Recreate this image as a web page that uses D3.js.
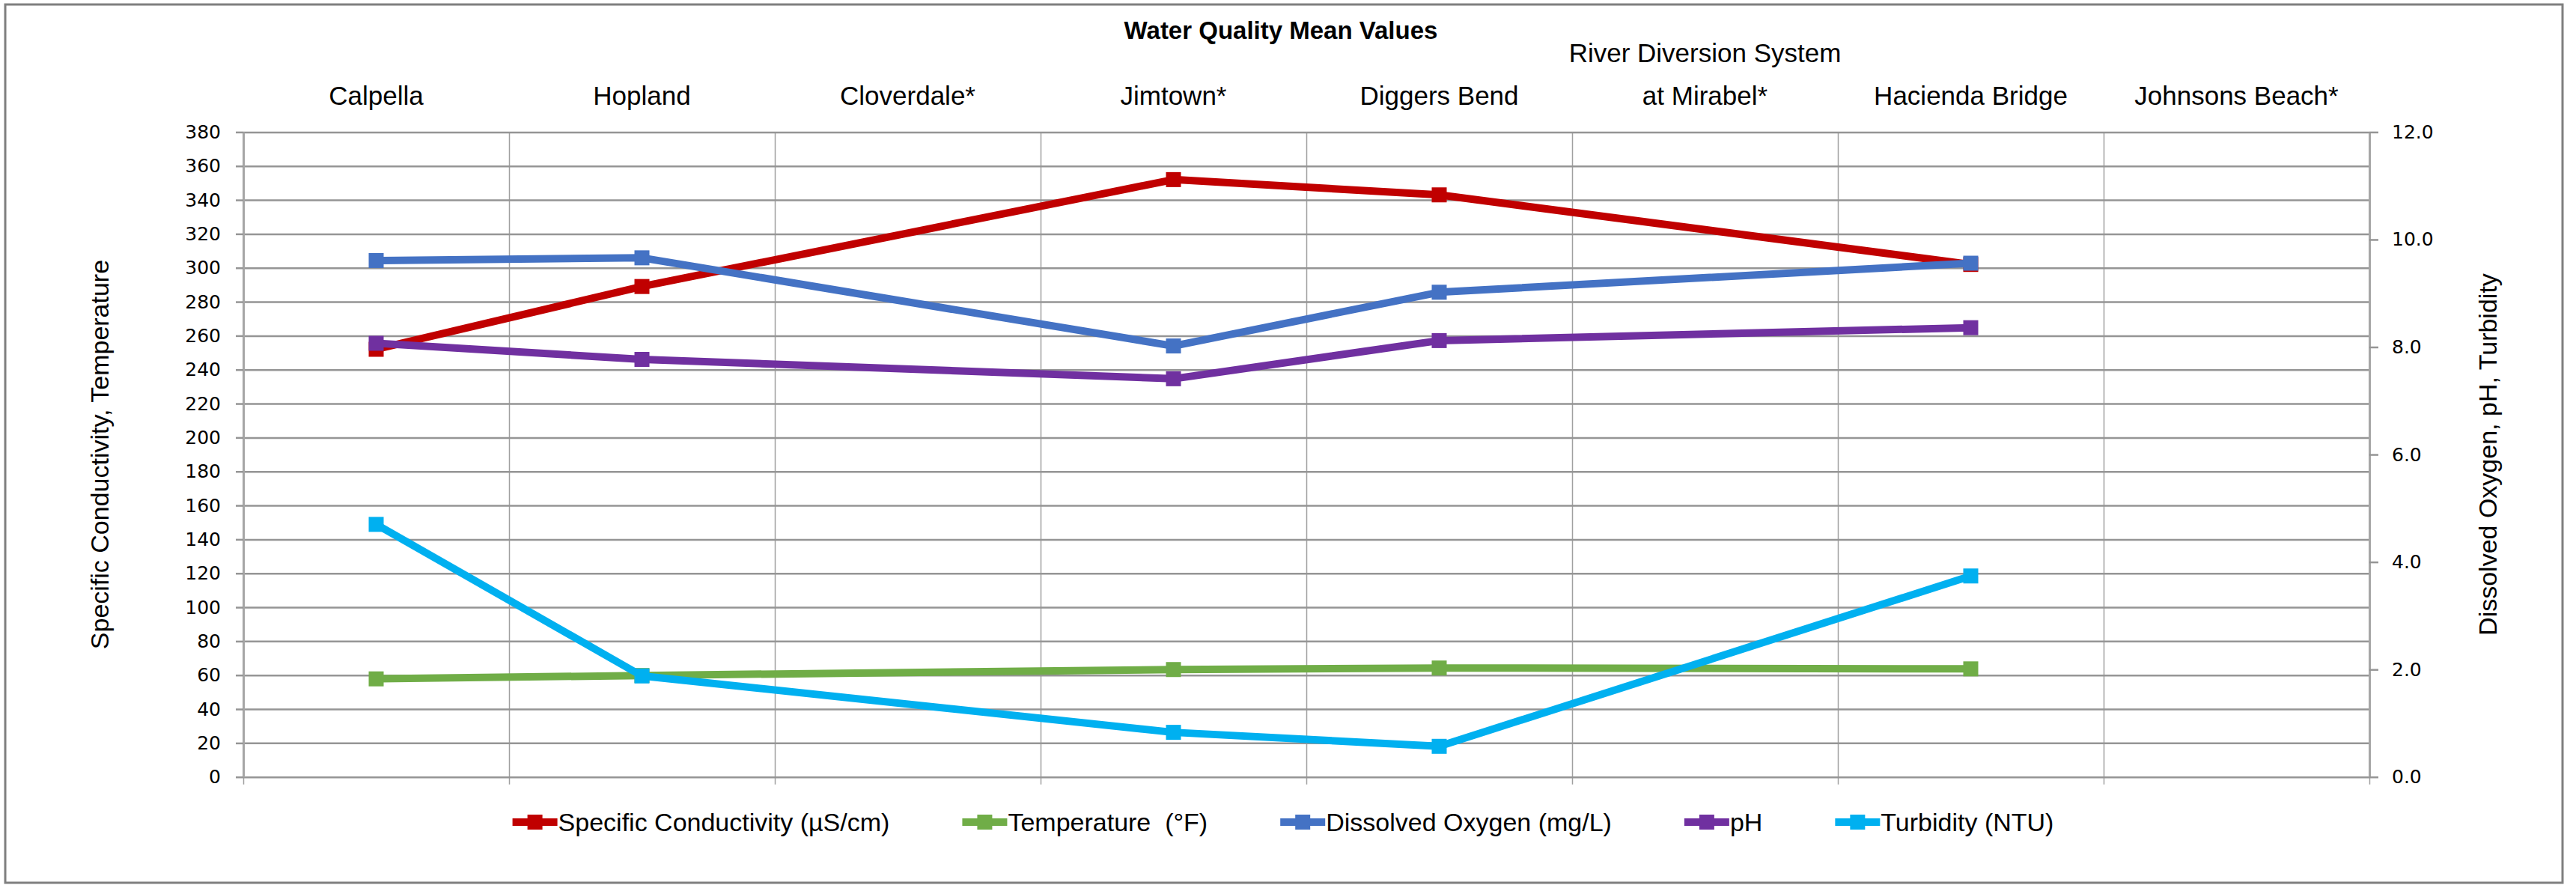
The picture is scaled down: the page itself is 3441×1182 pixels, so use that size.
<!DOCTYPE html>
<html>
<head>
<meta charset="utf-8">
<script src="https://cdn.jsdelivr.net/npm/d3@7"></script>
<style>
  html, body { margin: 0; padding: 0; background: #fff; }
  svg { display: block; }
  text { font-family: "Liberation Sans", Arial, sans-serif; fill: #000; }
</style>
</head>
<body>
<svg id="chart" width="3441" height="1182"></svg>
<script>
// Sites along the river (top category labels)
const categories = ["Calpella", "Hopland", "Cloverdale*", "Jimtown*", "Diggers Bend",
    "River Diversion System\nat Mirabel*", "Hacienda Bridge", "Johnsons Beach*"];

// Mean values per site (null = no data)
const conductivity = [252, 289, null, 352, 343, null, 302, null];
const temperature = [57.8, 59.8, null, 63.3, 64.2, null, 63.7, null];
const dissolvedOxygen = [9.61, 9.66, null, 8.02, 9.02, null, 9.56, null];
const ph = [8.07, 7.77, null, 7.41, 8.12, null, 8.36, null];
const turbidity = [4.70, 1.88, null, 0.83, 0.57, null, 3.74, null];

const leftTicks = d3.range(0, 381, 20);
const rightTicks = [0, 2, 4, 6, 8, 10, 12];

const seriesNames = ["Specific Conductivity (\u00B5S/cm)", "Temperature  (\u00B0F)",
    "Dissolved Oxygen (mg/L)", "pH", "Turbidity (NTU)"];
const seriesColors = ["#C00000", "#70AD47", "#4472C4", "#7030A0", "#00B0F0"];
const seriesAxis = ["left", "left", "right", "right", "right"];
const seriesValues = [conductivity, temperature, dissolvedOxygen, ph, turbidity];

const svg = d3.select("#chart");
const plotLeft = 325, plotRight = 3165, plotTop = 176.4, plotBottom = 1037.7;

// outer border
svg.append("rect")
    .attr("x", 7).attr("y", 6)
    .attr("width", 3416).attr("height", 1173)
    .attr("fill", "none")
    .attr("stroke", "#7f7f7f")
    .attr("stroke-width", 3);

const x = d3.scaleBand()
    .domain(d3.range(categories.length))
    .range([plotLeft, plotRight])
    .padding(0);
const xEdge = d3.scaleLinear().domain([0, categories.length]).range([plotLeft, plotRight]);
const yLeft = d3.scaleLinear().domain([0, 380]).range([plotBottom, plotTop]);
const yRight = d3.scaleLinear().domain([0, 12]).range([plotBottom, plotTop]);

// vertical gridlines at category boundaries
svg.append("g")
    .attr("transform", `translate(0, ${plotBottom})`)
    .call(d3.axisBottom(xEdge).ticks(categories.length).tickSize(-(plotBottom - plotTop)).tickFormat(""))
    .call(g => g.select(".domain").remove())
    .call(g => g.selectAll("line").attr("stroke", "#a0a0a0").attr("stroke-width", 1.5));

// bottom tick marks
svg.append("g")
    .attr("transform", `translate(0, ${plotBottom})`)
    .call(d3.axisBottom(xEdge).ticks(categories.length).tickSize(10).tickFormat(""))
    .call(g => g.select(".domain").remove())
    .call(g => g.selectAll("line").attr("stroke", "#a0a0a0").attr("stroke-width", 1.5));

// horizontal gridlines
svg.append("g")
    .attr("transform", `translate(${plotLeft}, 0)`)
    .call(d3.axisLeft(yLeft).tickValues(leftTicks).tickSize(-(plotRight - plotLeft)).tickFormat(""))
    .call(g => g.select(".domain").remove())
    .call(g => g.selectAll("line").attr("stroke", "#959595").attr("stroke-width", 2.5));

// left axis
svg.append("g")
    .attr("transform", `translate(${plotLeft}, 0)`)
    .call(d3.axisLeft(yLeft).tickValues(leftTicks).tickSize(10).tickPadding(20).tickSizeOuter(0))
    .call(g => g.select(".domain").attr("stroke", "#a6a6a6").attr("stroke-width", 3))
    .call(g => g.selectAll("line").attr("stroke", "#959595").attr("stroke-width", 2.5))
    .call(g => g.selectAll("text")
        .style("font-family", "'DejaVu Sans', sans-serif")
        .style("font-size", "25px")
        .attr("fill", "#000"));

// right axis
svg.append("g")
    .attr("transform", `translate(${plotRight}, 0)`)
    .call(d3.axisRight(yRight).tickValues(rightTicks).tickSize(12).tickPadding(18)
        .tickSizeOuter(0).tickFormat(d3.format(".1f")))
    .call(g => g.select(".domain").attr("stroke", "#a6a6a6").attr("stroke-width", 3))
    .call(g => g.selectAll("line").attr("stroke", "#959595").attr("stroke-width", 2.5))
    .call(g => g.selectAll("text")
        .style("font-family", "'DejaVu Sans', sans-serif")
        .style("font-size", "25px")
        .attr("fill", "#000"));

// title
svg.append("text")
    .attr("x", 1711)
    .attr("y", 52)
    .attr("text-anchor", "middle")
    .attr("font-weight", "bold")
    .attr("font-size", "33px")
    .text("Water Quality Mean Values");

// category labels above plot
categories.forEach((c, i) => {
    const lines = c.split("\n");
    const cx = x(i) + x.bandwidth() / 2;
    const t = svg.append("text")
        .attr("x", cx)
        .attr("y", 140 - (lines.length - 1) * 57)
        .attr("text-anchor", "middle")
        .attr("font-size", "35px");
    lines.forEach((ln, j) => {
        t.append("tspan")
            .attr("x", cx)
            .attr("dy", j === 0 ? 0 : 57)
            .text(ln);
    });
});

// axis titles
svg.append("text")
    .attr("transform", `translate(145, ${(plotTop + plotBottom) / 2}) rotate(-90)`)
    .attr("text-anchor", "middle")
    .attr("font-size", "34px")
    .text("Specific Conductivity, Temperature");

svg.append("text")
    .attr("transform", `translate(3335, ${(plotTop + plotBottom) / 2}) rotate(-90)`)
    .attr("text-anchor", "middle")
    .attr("font-size", "34px")
    .text("Dissolved Oxygen, pH, Turbidity");

// series lines and markers
seriesValues.forEach((vals, s) => {
    const yScale = seriesAxis[s] === "left" ? yLeft : yRight;
    const pts = vals.map((v, i) => ({ i, v })).filter(d => d.v !== null);
    const line = d3.line()
        .x(d => x(d.i) + x.bandwidth() / 2)
        .y(d => yScale(d.v));
    svg.append("path")
        .datum(pts)
        .attr("fill", "none")
        .attr("stroke", seriesColors[s])
        .attr("stroke-width", 10)
        .attr("stroke-linejoin", "round")
        .attr("d", line);
    svg.selectAll(null)
        .data(pts)
        .enter()
        .append("rect")
        .attr("x", d => x(d.i) + x.bandwidth() / 2 - 10)
        .attr("y", d => yScale(d.v) - 10)
        .attr("width", 20)
        .attr("height", 20)
        .attr("fill", seriesColors[s]);
});

// legend
const legend = svg.append("g");
const legendY = 1098;
let lx = 0;
seriesNames.forEach((name, s) => {
    const item = legend.append("g").attr("transform", `translate(${lx}, ${legendY})`);
    item.append("line")
        .attr("x1", 0).attr("x2", 60)
        .attr("stroke", seriesColors[s])
        .attr("stroke-width", 10);
    item.append("rect")
        .attr("x", 20).attr("y", -10)
        .attr("width", 20).attr("height", 20)
        .attr("fill", seriesColors[s]);
    const txt = item.append("text")
        .attr("x", 61)
        .attr("y", 12)
        .attr("font-size", "34px")
        .style("white-space", "pre")
        .text(name);
    lx += 61 + txt.node().getComputedTextLength() + 97;
});
const legendWidth = lx - 97;
legend.attr("transform", `translate(${1714 - legendWidth / 2}, 0)`);
</script>
</body>
</html>
